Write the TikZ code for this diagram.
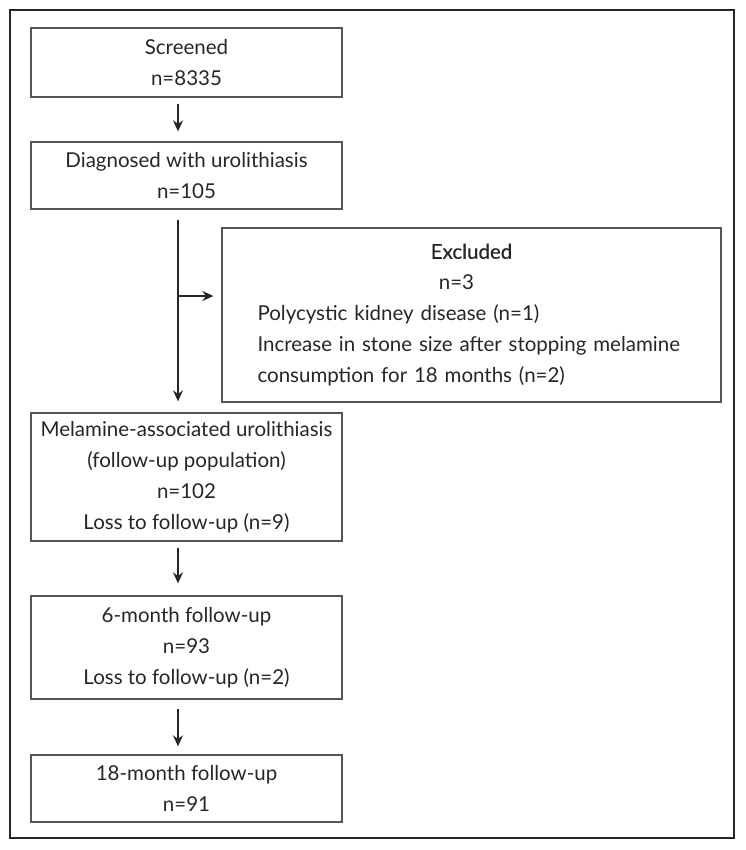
\documentclass[tikz,border=0pt]{standalone}
\usepackage{fontspec}
\setmainfont{Lato}
\newfontfamily\headfont[FakeBold=0.4]{Lato}
\usetikzlibrary{arrows.meta}
\definecolor{boxgray}{HTML}{555555}
\definecolor{inkgray}{HTML}{262626}

\begin{document}
\begin{tikzpicture}[x=1pt, y=-1pt,
    font=\fontsize{20.5}{31}\selectfont, text=inkgray,
    box/.style={draw=boxgray, line width=1.3pt, inner sep=0pt, minimum width=311pt, align=center},
    arr/.style={-{Stealth[length=11pt,width=10pt]}, line width=1.5pt, draw=inkgray}]
        \useasboundingbox (0,0) rectangle (745,850);
        \draw [line width=1.6pt, draw=inkgray] (10,10) rectangle (734,838); % frame

        \node [box, minimum height=69pt] (screen) at (186.5,62.5) {Screened\\n=8335};
        \node [box, minimum height=67pt] (diag) at (186.5,175.5) {Diagnosed with urolithiasis\\n=105};
        \node [box, minimum width=499pt, minimum height=174pt, text width=428pt, align=left] (excl) at (471.5,315)
            {{\centering{\headfont Excluded}\hspace*{30pt}\\n=3\hspace*{30pt}\par}
             Polycystic kidney disease (n=1)\\
             Increase in stone size after stopping melamine\\
             consumption for 18 months (n=2)};
        \node [box, minimum height=128pt] (mela) at (186.5,477)
            {Melamine-associated urolithiasis\\(follow-up population)\\n=102\\Loss to follow-up (n=9)};
        \node [box, minimum height=103pt] (six) at (186.5,647.5) {6-month follow-up\\n=93\\Loss to follow-up (n=2)};
        \node [box, minimum height=67pt] (eighteen) at (186.5,788.5) {18-month follow-up\\n=91};

        \coordinate (spine) at (178,0);
        \coordinate (split) at (178,296);

        \draw [arr, shorten <=6pt, shorten >=10pt] (screen.south -| spine) -- (diag.north -| spine);
        \draw [arr, shorten <=10pt, shorten >=11pt] (diag.south -| spine) -- (mela.north -| spine);
        \draw [arr, shorten >=8pt] (split) -- (excl.west |- split); % Excluded
        \draw [arr, shorten <=6pt, shorten >=12pt] (mela.south -| spine) -- (six.north -| spine);
        \draw [arr, shorten <=9pt, shorten >=8pt] (six.south -| spine) -- (eighteen.north -| spine);
    \end{tikzpicture}
\end{document}
